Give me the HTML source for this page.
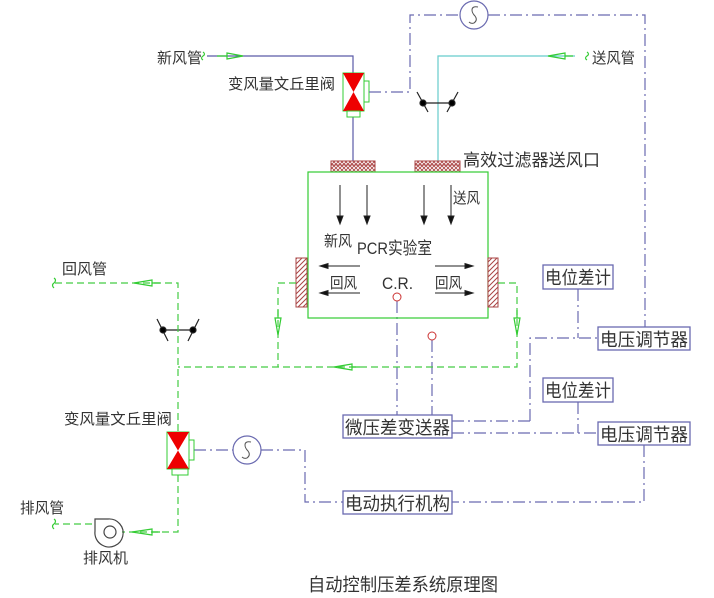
<!DOCTYPE html>
<html><head><meta charset="utf-8"><style>
html,body{margin:0;padding:0;background:#fff;}
svg{display:block;}
text{font-family:"Liberation Sans","Noto Sans CJK SC",sans-serif;fill:#333;}
</style></head><body>
<svg width="714" height="598" viewBox="0 0 714 598" xmlns="http://www.w3.org/2000/svg">
<defs>
<pattern id="hx" width="4" height="4" patternUnits="userSpaceOnUse"><rect width="4" height="4" fill="#fff"/><path d="M0 4L4 0M0 0L4 4" stroke="#a44" stroke-width="0.8"/></pattern>
<pattern id="hd" width="5" height="5" patternUnits="userSpaceOnUse"><rect width="5" height="5" fill="#fff"/><path d="M0 5L5 0M-1 1L1 -1M4 6L6 4" stroke="#a44" stroke-width="1"/></pattern>
</defs>

<!-- blue fresh air -->
<path d="M207 56H353V73M353 117V161" stroke="#5b5ba8" fill="none" stroke-width="1.2"/>
<!-- cyan supply -->
<path d="M575 56H438V161" stroke="#66cccc" fill="none" stroke-width="1.2"/>
<!-- green arrows top -->
<g stroke="#3c3" fill="none" stroke-width="1.2">
<path d="M203 52q3 2 0 4q-3 2 0 4"/>
<path d="M217 56h10M227 53l16 3l-16 3z"/>
<path d="M587 52q3 2 0 4q-3 2 0 4"/>
<path d="M573 56h-8M565 53l-17 3l17 3z"/>
</g>

<!-- top valve -->
<rect x="343" y="73" width="21" height="38" fill="none" stroke="#3c3"/>
<path d="M343 73h21l-10.5 19zM343 111h21l-10.5 -19z" fill="#e00"/>
<rect x="364" y="81" width="5" height="21" fill="none" stroke="#3c3"/>
<rect x="347" y="111" width="13" height="6" fill="none" stroke="#3c3"/>

<!-- control dash-dot -->
<g stroke="#6a6ab0" fill="none" stroke-width="1.2" stroke-dasharray="12 4 2 4">
<path d="M369 92H410V15H460"/>
<path d="M488 15H645V327"/>
<path d="M578 289V338M530 421V338H598"/>
<path d="M452 421H530"/>
<path d="M452 433H598M578 402V433"/>
<path d="M644 445V502H452"/>
<path d="M194 450H233M261 450H305V502H343"/>
<path d="M397 301V415M432 340V415"/>
</g>
<circle cx="474" cy="15" r="14" fill="#fff" stroke="#6a6ab0" stroke-width="1.2"/>
<path d="M478 7q-6 -1 -6 3q0 3 3 6q3 4 -1 7q-3 1 -5 -1" stroke="#555" fill="none"/>
<circle cx="247" cy="450" r="14" fill="#fff" stroke="#6a6ab0" stroke-width="1.2"/>
<path d="M251 442q-6 -1 -6 3q0 3 3 6q3 4 -1 7q-3 1 -5 -1" stroke="#555" fill="none"/>

<!-- dampers -->
<g stroke="#222" stroke-width="1.2" fill="#000">
<path d="M417 92L428 112M458 92L447 112M423 103H452" fill="none"/>
<circle cx="423" cy="103" r="3"/><circle cx="452" cy="103" r="3"/>
<path d="M157 319L168 341M199 319L188 341M163 330H193" fill="none"/>
<circle cx="163" cy="330" r="3"/><circle cx="193" cy="330" r="3"/>
</g>

<!-- filters -->
<rect x="331" y="161" width="44" height="11" fill="url(#hx)" stroke="#a44"/>
<line x1="331" y1="165" x2="375" y2="165" stroke="#a44"/>
<rect x="415" y="161" width="45" height="11" fill="url(#hx)" stroke="#a44"/>
<line x1="415" y1="165" x2="460" y2="165" stroke="#a44"/>

<!-- room -->
<rect x="308" y="172" width="180" height="146" fill="none" stroke="#3c3" stroke-width="1.2"/>
<rect x="296" y="258" width="11" height="49" fill="url(#hd)" stroke="#a44"/>
<rect x="488" y="258" width="10" height="49" fill="url(#hd)" stroke="#a44"/>

<g stroke="#222" stroke-width="1" fill="#111">
<path d="M340 185V223M367 185V223M424 185V223M451 185V223" fill="none"/>
<path d="M337 216l3 8l3 -8zM364 216l3 8l3 -8zM421 216l3 8l3 -8zM448 216l3 8l3 -8z"/>
<path d="M320 266H360M320 293H360M435 266H473M435 293H473" fill="none"/>
<path d="M320 266l8 -2.5v5zM320 293l8 -2.5v5zM473 266l-8 -2.5v5zM473 293l-8 -2.5v5z"/>
</g>
<circle cx="397" cy="297" r="4" fill="#fff" stroke="#c33"/>
<circle cx="432" cy="336" r="4" fill="#fff" stroke="#c33"/>

<!-- green return dashed -->
<g stroke="#44cc44" fill="none" stroke-width="1.2" stroke-dasharray="7 4">
<path d="M296 283H278V367M498 283H517V367H178"/>
<path d="M55 283H178V432M178 475V532H122M92 524H55"/>
</g>
<g stroke="#3c3" fill="none" stroke-width="1.2">
<path d="M278 310v8M275 318l3 17l3 -17zM517 310v8M514 318l3 17l3 -17z"/>
<path d="M360 367h-8M352 364l-18 3l18 3z"/>
<path d="M160 283h-8M152 280l-18 3l18 3z"/>
<path d="M160 532h-8M152 529l-20 3l20 3z"/>
<path d="M54 278q3 2 0 5q-3 2 0 5"/>
<path d="M54 519q3 2 0 5q-3 2 0 5"/>
</g>

<!-- bottom valve -->
<rect x="167" y="432" width="22" height="37" fill="none" stroke="#3c3"/>
<path d="M167 432h22l-11 18.5zM167 469h22l-11 -18.5z" fill="#e00"/>
<rect x="189" y="440" width="5" height="20" fill="none" stroke="#3c3"/>
<rect x="172" y="469" width="16" height="6" fill="none" stroke="#3c3"/>

<!-- fan -->
<path d="M95 519H108a14 14 0 1 1 -6 26a14 14 0 0 1 -7 -14z" fill="none" stroke="#444" stroke-width="1.2"/>
<circle cx="110" cy="532" r="6" fill="none" stroke="#444" stroke-width="1.2"/>

<!-- boxes -->
<g fill="#fff" stroke="#6a6ab0" stroke-width="1.3">
<rect x="543" y="265" width="70" height="24"/>
<rect x="598" y="327" width="92" height="23"/>
<rect x="543" y="378" width="70" height="24"/>
<rect x="598" y="422" width="92" height="23"/>
<rect x="343" y="415" width="109" height="23"/>
<rect x="343" y="491" width="109" height="23"/>
</g>

<g font-size="18">
<text x="545" y="284" textLength="66" lengthAdjust="spacingAndGlyphs">电位差计</text>
<text x="600" y="346" textLength="88" lengthAdjust="spacingAndGlyphs">电压调节器</text>
<text x="545" y="397" textLength="66" lengthAdjust="spacingAndGlyphs">电位差计</text>
<text x="600" y="441" textLength="88" lengthAdjust="spacingAndGlyphs">电压调节器</text>
<text x="345" y="434" textLength="105" lengthAdjust="spacingAndGlyphs">微压差变送器</text>
<text x="345" y="510" textLength="105" lengthAdjust="spacingAndGlyphs">电动执行机构</text>
</g>
<g font-size="15">
<text x="157" y="63" textLength="45" lengthAdjust="spacingAndGlyphs">新风管</text>
<text x="228" y="89" textLength="107" lengthAdjust="spacingAndGlyphs">变风量文丘里阀</text>
<text x="592" y="63" textLength="43" lengthAdjust="spacingAndGlyphs">送风管</text>
<text x="62" y="274" textLength="45" lengthAdjust="spacingAndGlyphs">回风管</text>
<text x="64" y="424" textLength="108" lengthAdjust="spacingAndGlyphs">变风量文丘里阀</text>
<text x="20" y="513" textLength="44" lengthAdjust="spacingAndGlyphs">排风管</text>
<text x="83" y="563" textLength="45" lengthAdjust="spacingAndGlyphs">排风机</text>
<text x="453" y="203" textLength="27" lengthAdjust="spacingAndGlyphs">送风</text>
<text x="324" y="246" textLength="28" lengthAdjust="spacingAndGlyphs">新风</text>
<text x="330" y="288" textLength="27" lengthAdjust="spacingAndGlyphs">回风</text>
<text x="435" y="288" textLength="27" lengthAdjust="spacingAndGlyphs">回风</text>
</g>
<text x="463" y="166" font-size="17" textLength="137" lengthAdjust="spacingAndGlyphs">高效过滤器送风口</text>
<text x="357" y="254" font-size="17" textLength="75" lengthAdjust="spacingAndGlyphs">PCR实验室</text>
<text x="382" y="289" font-size="17" textLength="31" lengthAdjust="spacingAndGlyphs">C.R.</text>
<text x="308" y="591" font-size="18" textLength="190" lengthAdjust="spacingAndGlyphs">自动控制压差系统原理图</text>
</svg>
</body></html>
